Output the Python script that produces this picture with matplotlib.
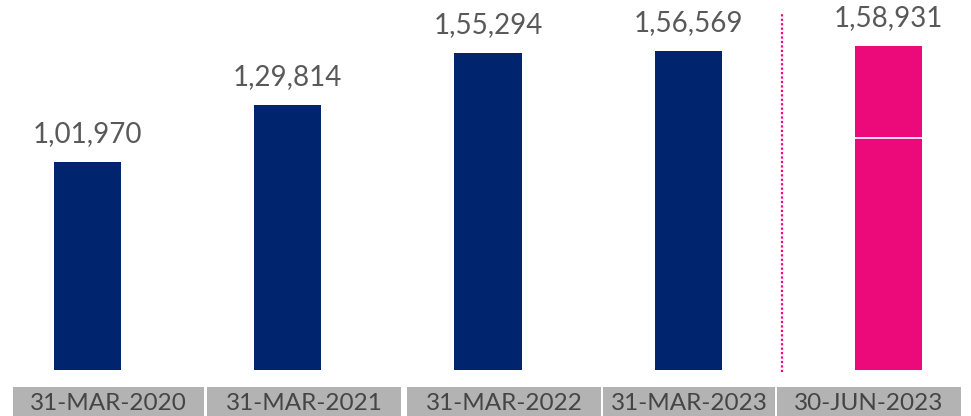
import matplotlib.pyplot as plt
from matplotlib.patches import Rectangle

# data
dates = ['31-MAR-2020', '31-MAR-2021', '31-MAR-2022', '31-MAR-2023', '30-JUN-2023']
values = [101970, 129814, 155294, 156569, 158931]
# the last bar is drawn in two parts (white split line)
last_parts = [113700, 45231]

NAVY = '#00256E'
PINK = '#EC0A7B'
GREY_TXT = '#595959'

plt.rcParams['font.family'] = ['Lato', 'DejaVu Sans']

W, H = 971, 416
fig = plt.figure(figsize=(W / 100, H / 100), dpi=100)

# axes spans pixel rows 0..370 (bar base at 370 px from top)
ax = fig.add_axes([0, 46 / H, 1, 370 / H])
px_per_unit = 324 / values[-1]
ax.set_ylim(0, 370 / px_per_unit)
ax.set_xlim(-87.5 / 200.25, (W - 87.5) / 200.25)
ax.axis('off')

x = list(range(len(dates)))
bw = 0.335
ax.bar(x[:-1], values[:-1], width=bw, color=NAVY)
ax.bar(x[-1], last_parts[0], width=bw, color=PINK)
ax.bar(x[-1], last_parts[1], bottom=last_parts[0], width=bw, color=PINK)
# thin white split
ax.plot([x[-1] - bw / 2, x[-1] + bw / 2], [last_parts[0]] * 2, color='white', lw=1.2)

for xi, v in zip(x, values):
    ax.annotate(f"{v // 100000},{(v // 1000) % 100:02d},{v % 1000:03d}",
                (xi, v), xytext=(0, 14.5), textcoords='offset points',
                ha='center', va='baseline', fontsize=20, color=GREY_TXT)

# dotted separator before the latest quarter
ax.plot([3.467, 3.467], [-2 / px_per_unit, 357 / px_per_unit], color=PINK,
        lw=1.6, linestyle=(0, (1, 1)), clip_on=False)

# grey date boxes under the bars (pixel layout)
box_edges = [(13, 204), (207, 401), (407, 601), (603, 775), (777, 961)]
for (l, r), d in zip(box_edges, dates):
    fig.add_artist(Rectangle((l / W, 0), (r - l) / W, 29 / H,
                             transform=fig.transFigure, color='#B3B3B3', lw=0))
    fig.text((l + r) / 2 / W, 13 / H, d, ha='center', va='center',
             fontsize=17.5, color='#454545')

fig.savefig('out.png', dpi=100)
